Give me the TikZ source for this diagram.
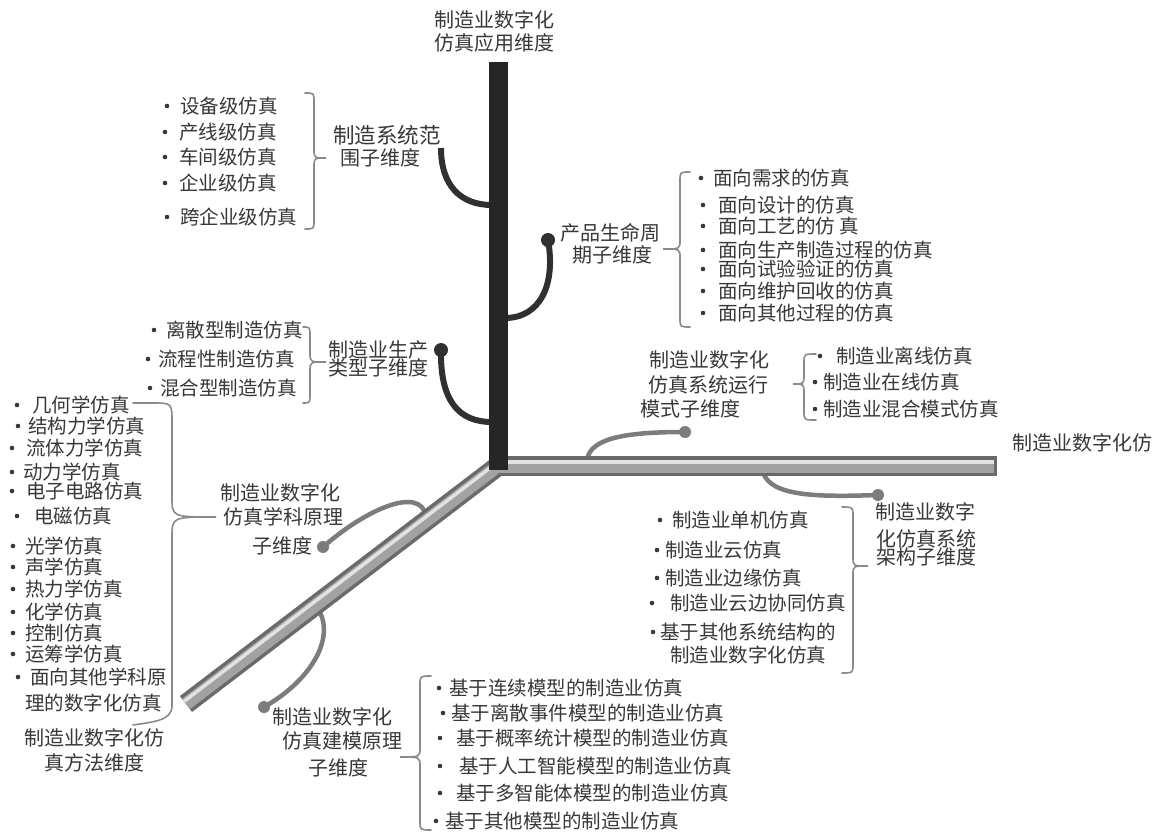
\documentclass[tikz,border=0pt]{standalone}
\usepackage{fontspec}
\usetikzlibrary{calc}
\newfontfamily\cjk{Noto Sans CJK SC}
\definecolor{txt}{HTML}{383838}
\definecolor{axisdark}{HTML}{262626}
\definecolor{brdark}{HTML}{303030}
\definecolor{brgray}{HTML}{7c7c7c}
\definecolor{tubedark}{HTML}{6a6a6a}
\definecolor{tubemid}{HTML}{a2a2a2}
\definecolor{tubelight}{HTML}{e2e2e2}
\definecolor{bracec}{HTML}{8a8a8a}
\newcommand\itm[5]{\fill[bul] (#2,#4) circle (2.3);\node[item] (#1) at (#3,#4) {#5};}
\newcommand\BraceR[6]{\draw[brc] (#1,#4) .. controls (#2,#4) .. (#2,#4+9) -- (#2,#5-9) .. controls (#2,#5) .. (#3,#5) .. controls (#2,#5) .. (#2,#5+9) -- (#2,#6-9) .. controls (#2,#6) .. (#1,#6);}
\begin{document}
\begin{tikzpicture}[x=1pt,y=-1pt,
  item/.style={anchor=west, inner sep=0pt, text=txt, font=\cjk\fontsize{19.5}{22}\selectfont},
  lab/.style={anchor=west, inner sep=0pt, text=txt, font=\cjk\fontsize{20}{22}\selectfont},
  bul/.style={fill=txt},
  brc/.style={draw=bracec, line width=1.6pt, line cap=round},
  brD/.style={draw=brdark, line width=6pt},
  brG/.style={draw=brgray, line width=4.5pt},
  dotD/.style={circle, fill=brdark, minimum size=14pt, inner sep=0pt},
  dotG/.style={circle, fill=brgray, minimum size=12pt, inner sep=0pt},
  tubeA/.style={line width=20pt, draw=tubedark},
  tubeB/.style={line width=13pt, draw=tubemid},
  tubeC/.style={line width=3.5pt, draw=tubelight},
  vbar/.style={line width=19pt, draw=axisdark}]
\fill[white] (0,0) rectangle (1159,834);
\useasboundingbox (0,0) rectangle (1159,834);

% axis anchor points
\coordinate (O) at (498,466);
\coordinate (Vtop) at (498,62);
\coordinate (Vbot) at (498,470);
\coordinate (Htip) at (997,466);
\coordinate (Dtip) at (186,704);

% branches
\coordinate (a1) at (492,205);
\coordinate (e1) at (441,148);
\draw[brD] (a1) .. controls (460,205) and (441,185) .. (e1);
\node[dotD] (d2) at (548,240) {};
\coordinate (a2) at (505,318);
\draw[brD] (a2) .. controls (540,318) and (556,285) .. (d2.center);
\node[dotD] (d3) at (441,350) {};
\coordinate (a3) at (492,422);
\draw[brD] (a3) .. controls (458,422) and (440,400) .. (d3.center);
\node[dotG] (d4) at (685,432) {};
\coordinate (a4) at (587,460);
\draw[brG] (a4) .. controls (590,437) and (630,432) .. (d4.center);
\node[dotG] (d5) at (878,495) {};
\coordinate (a5) at (763,472);
\draw[brG] (a5) .. controls (770,497) and (820,497) .. (d5.center);
\node[dotG] (d6) at (323,547) {};
\coordinate (a6) at (426,516);
\draw[brG] (a6) .. controls (420,485) and (365,510) .. (d6.center);
\node[dotG] (d7) at (264,707) {};
\coordinate (a7) at (316,606);
\draw[brG] (a7) .. controls (338,635) and (312,680) .. (d7.center);

% tubes
\draw[tubeA] (O) -- (Dtip);
\draw[tubeB] (O) -- (Dtip);
\draw[tubeC] ($(O)+(-2,-2.6)$) -- ($(Dtip)+(-2,-2.6)$);
\draw[tubeA] (O) -- (Htip);
\draw[tubeB] (O) -- (Htip);
\draw[tubeC] ($(O)+(0,-4)$) -- ($(Htip)+(0,-4)$);
\draw[line width=3pt, draw=tubedark] ($(Htip)+(-1.5,-10)$) -- ($(Htip)+(-1.5,10)$);
\draw[vbar] (Vbot) -- (Vtop);

% axis titles
\node[lab, anchor=center] (t1) at (494,20) {制造业数字化};
\node[lab, anchor=center] (t2) at (494,43) {仿真应用维度};
\node[lab] (hx) at (1012,443) {制造业数字化仿};
\node[lab] (dx1) at (24,738) {制造业数字化仿};
\node[lab] (dx2) at (44,763) {真方法维度};

% sub-dimension labels
\node[lab, font=\cjk\fontsize{21.5}{24}\selectfont] (sr1) at (333,135) {制造系统范};
\node[lab] (sr2) at (340,158) {围子维度};
\node[lab] (pl1) at (560,233) {产品生命周};
\node[lab] (pl2) at (572,255) {期子维度};
\node[lab] (pt1) at (328,350) {制造业生产};
\node[lab] (pt2) at (328,368) {类型子维度};
\node[lab] (rm1) at (649,360) {制造业数字化};
\node[lab] (rm2) at (648,385) {仿真系统运行};
\node[lab] (rm3) at (640,409) {模式子维度};
\node[lab] (ar1) at (875,512) {制造业数字};
\node[lab] (ar2) at (876,539) {化仿真系统};
\node[lab] (ar3) at (876,557) {架构子维度};
\node[lab] (dp1) at (220,493) {制造业数字化};
\node[lab] (dp2) at (223,517) {仿真学科原理};
\node[lab] (dp3) at (252,546) {子维度};
\node[lab] (mp1) at (272,717) {制造业数字化};
\node[lab] (mp2) at (282,741) {仿真建模原理};
\node[lab] (mp3) at (308,768) {子维度};

% braces
\BraceR{305}{314}{326}{93}{158}{229}
\BraceR{690}{680}{663}{172}{249}{327}
\BraceR{303}{310}{326}{327}{362}{403}
\BraceR{816}{804}{793}{354}{384}{420}
\BraceR{842}{853}{868}{507}{566}{673}
\BraceR{431}{420}{400}{676}{757}{830}
\draw[brc] (133,403) -- (152,403) .. controls (172,403) .. (172,422) -- (172,497) .. controls (172,517) .. (216,517) .. controls (172,517) .. (172,537) -- (172,706) .. controls (172,721) and (152,722) .. (133,725);

% items: manufacturing system scope
\itm{s1}{167}{180}{106}{设备级仿真}
\itm{s2}{165}{179}{132}{产线级仿真}
\itm{s3}{165}{179}{157}{车间级仿真}
\itm{s4}{165}{179}{183}{企业级仿真}
\itm{s5}{167}{180}{217}{跨企业级仿真}
% product life cycle
\itm{p1}{701}{713}{178}{面向需求的仿真}
\itm{p2}{703}{718}{205}{面向设计的仿真}
\itm{p3}{703}{718}{226}{面向工艺的仿 真}
\itm{p4}{703}{718}{250}{面向生产制造过程的仿真}
\itm{p5}{703}{718}{269}{面向试验验证的仿真}
\itm{p6}{703}{718}{291}{面向维护回收的仿真}
\itm{p7}{703}{718}{313}{面向其他过程的仿真}
% production type
\itm{m1}{154}{166}{330}{离散型制造仿真}
\itm{m2}{148}{158}{359}{流程性制造仿真}
\itm{m3}{150}{160}{388}{混合型制造仿真}
% discipline principles
\itm{k1}{17}{32}{405}{几何学仿真}
\itm{k2}{18}{28}{426}{结构力学仿真}
\itm{k3}{12}{26}{448}{流体力学仿真}
\itm{k4}{12}{23}{472}{动力学仿真}
\itm{k5}{12}{26}{491}{电子电路仿真}
\itm{k6}{17}{34}{516}{电磁仿真}
\itm{k7}{13}{25}{546}{光学仿真}
\itm{k8}{13}{25}{567}{声学仿真}
\itm{k9}{13}{25}{589}{热力学仿真}
\itm{k10}{13}{25}{612}{化学仿真}
\itm{k11}{13}{25}{633}{控制仿真}
\itm{k12}{13}{25}{654}{运筹学仿真}
\itm{k13}{18}{30}{677}{面向其他学科原}
\node[item] (k14) at (25,703) {理的数字化仿真};
% run mode
\itm{r1}{820}{836}{356}{制造业离线仿真}
\itm{r2}{815}{823}{382}{制造业在线仿真}
\itm{r3}{815}{823}{409}{制造业混合模式仿真}
% architecture
\itm{c1}{660}{672}{520}{制造业单机仿真}
\itm{c2}{657}{665}{550}{制造业云仿真}
\itm{c3}{657}{665}{578}{制造业边缘仿真}
\itm{c4}{652}{670}{603}{制造业云边协同仿真}
\itm{c5}{653}{660}{632}{基于其他系统结构的}
\node[item] (c6) at (670,655) {制造业数字化仿真};
% modelling principles
\itm{q1}{439}{449}{688}{基于连续模型的制造业仿真}
\itm{q2}{443}{451}{713}{基于离散事件模型的制造业仿真}
\itm{q3}{440}{456}{738}{基于概率统计模型的制造业仿真}
\itm{q4}{440}{459}{766}{基于人工智能模型的制造业仿真}
\itm{q5}{440}{456}{793}{基于多智能体模型的制造业仿真}
\itm{q6}{436}{445}{821}{基于其他模型的制造业仿真}
\end{tikzpicture}
\end{document}
